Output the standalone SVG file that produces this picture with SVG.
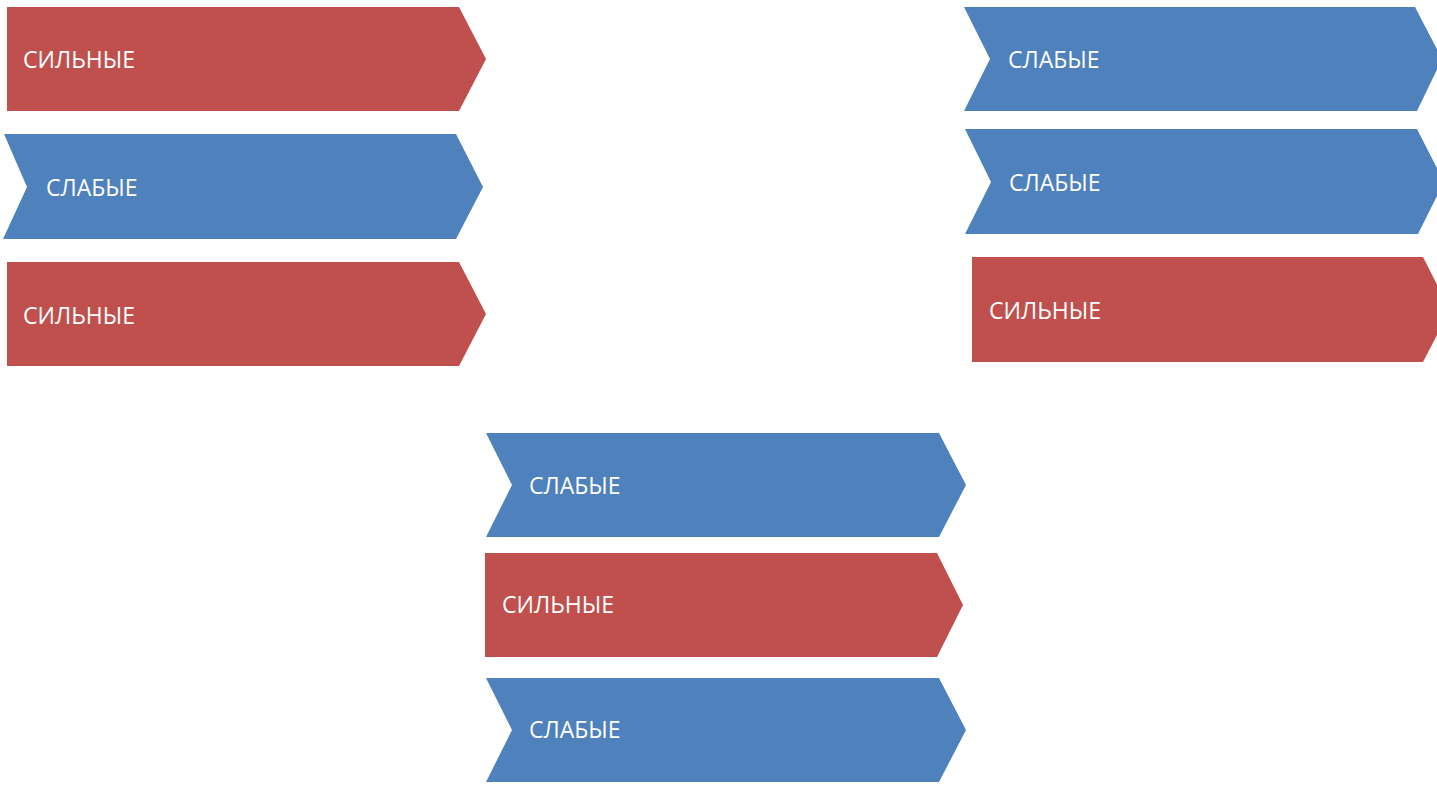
<svg xmlns="http://www.w3.org/2000/svg" width="1437" height="809" viewBox="0 0 1437 809">
<style>
.red{fill:#C0504D}
.blue{fill:#4F81BD}
.lbl{font-family:"Open Sans","Liberation Sans",sans-serif;font-size:23px;fill:#FFFFFF}
</style>
<rect width="1437" height="809" fill="#FFFFFF"/>
<g id="left-1"><polygon class="red" points="7,7 459,7 486,59 459,111 7,111"/><text class="lbl" x="23" y="68">СИЛЬНЫЕ</text></g>
<g id="left-2"><polygon class="blue" points="4,134 456,134 483,187 456,239 3,239 27,187"/><text class="lbl" x="46" y="196">СЛАБЫЕ</text></g>
<g id="left-3"><polygon class="red" points="7,262 459,262 486,314 459,366 7,366"/><text class="lbl" x="23" y="324">СИЛЬНЫЕ</text></g>
<g id="right-1"><polygon class="blue" points="964,7 1415,7 1442,59 1417,111 964,111 990,59"/><text class="lbl" x="1008" y="68">СЛАБЫЕ</text></g>
<g id="right-2"><polygon class="blue" points="965,129 1417,129 1444,182 1418,234 965,234 991,182"/><text class="lbl" x="1009" y="191">СЛАБЫЕ</text></g>
<g id="right-3"><polygon class="red" points="972,257 1423,257 1450,310 1423,362 972,362"/><text class="lbl" x="989" y="319">СИЛЬНЫЕ</text></g>
<g id="bottom-1"><polygon class="blue" points="486,433 939,433 966,485 939,537 486,537 512,485"/><text class="lbl" x="529" y="494">СЛАБЫЕ</text></g>
<g id="bottom-2"><polygon class="red" points="485,553 937,553 963,605 937,657 485,657"/><text class="lbl" x="502" y="613">СИЛЬНЫЕ</text></g>
<g id="bottom-3"><polygon class="blue" points="486,678 939,678 966,730 939,782 486,782 512,730"/><text class="lbl" x="529" y="738">СЛАБЫЕ</text></g>
<g id="connectors"></g>
</svg>
